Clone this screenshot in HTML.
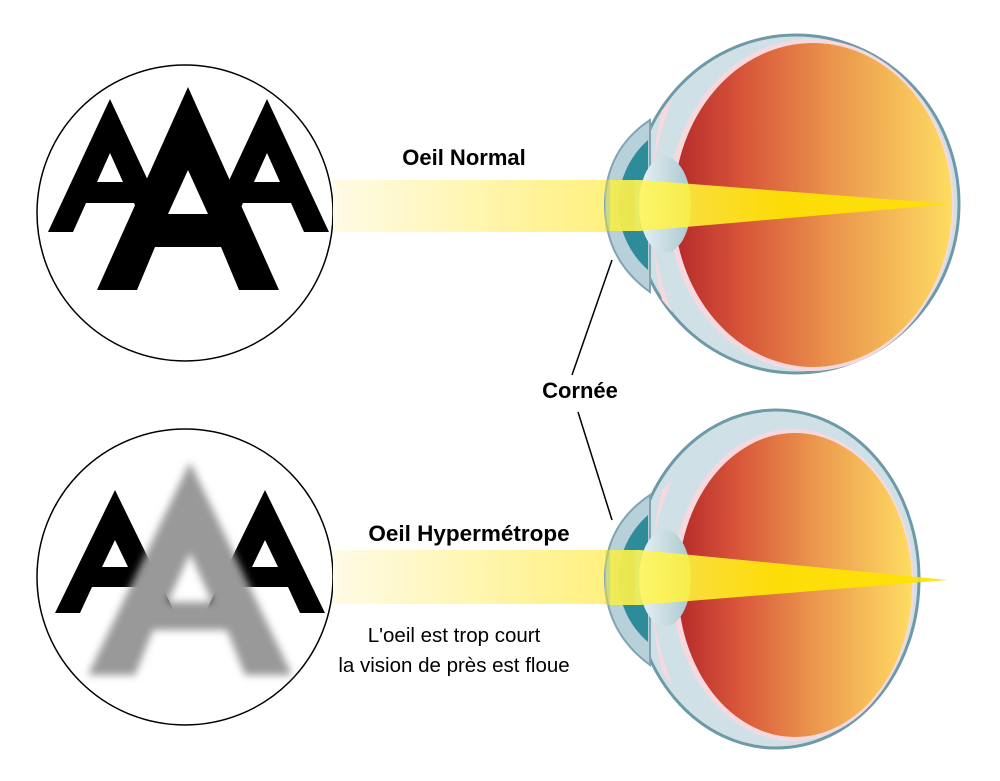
<!DOCTYPE html>
<html><head><meta charset="utf-8"><style>
html,body{margin:0;padding:0;background:#fff}
svg{display:block}
</style></head><body>
<svg width="1000" height="781" viewBox="0 0 1000 781" xmlns="http://www.w3.org/2000/svg">
<defs>
<linearGradient id="red" x1="0" x2="1" y1="0" y2="0">
<stop offset="0" stop-color="#b52a2a"/><stop offset="0.25" stop-color="#d8553a"/><stop offset="0.6" stop-color="#ec9a4e"/><stop offset="1" stop-color="#fedc62"/></linearGradient>
<linearGradient id="beam" x1="0" x2="1"><stop offset="0" stop-color="#fffbe6"/><stop offset="1" stop-color="#fff07a"/></linearGradient>
<linearGradient id="cone" x1="0" x2="1"><stop offset="0" stop-color="#fff870"/><stop offset="0.5" stop-color="#ffe800"/><stop offset="1" stop-color="#ffe000"/></linearGradient>
<linearGradient id="lens" x1="0" x2="1"><stop offset="0" stop-color="#e8f2f4"/><stop offset="1" stop-color="#a9c8cf"/></linearGradient>
<filter id="blur"><feGaussianBlur stdDeviation="4"/></filter>
</defs>

<circle cx="185" cy="213" r="148" fill="#fff" stroke="#000" stroke-width="1.5"/>
<circle cx="185" cy="577" r="148" fill="#fff" stroke="#000" stroke-width="1.5"/>

<g fill="#000" fill-rule="evenodd">
<path d="M110,99 L172,232 L147,232 L134,203 L86,203 L73,232 L48,232 Z M110,153 L97,182 L123,182 Z"/>
<path d="M267,99 L329,232 L304,232 L291,203 L243,203 L230,232 L205,232 Z M267,153 L254,182 L280,182 Z"/>
<path d="M188,87 L279,290 L239,290 L221,247 L155,247 L137,290 L97,290 Z M188,170 L168,214 L208,214 Z"/>
</g>
<g fill="#000" fill-rule="evenodd">
<path d="M115,490 L175,613 L150,613 L138,587 L92,587 L80,613 L55,613 Z M115,540 L102,567 L128,567 Z"/>
<path d="M265,490 L325,613 L300,613 L288,587 L242,587 L230,613 L205,613 Z M265,540 L252,567 L278,567 Z"/>
</g>
<path d="M190,462 L292,675 L245,675 L227,630 L153,630 L135,675 L88,675 Z M190,553 L168,602 L212,602 Z" fill="#999" fill-rule="evenodd" filter="url(#blur)"/>

<rect x="333" y="180" width="285" height="52" fill="url(#beam)"/>
<rect x="333" y="550" width="285" height="54" fill="url(#beam)"/>

<g>
<ellipse cx="796" cy="204" rx="163" ry="169" fill="#cfe0e6" stroke="#6e99a6" stroke-width="3"/>
<path d="M650,120 Q605,150 605,205 Q605,260 650,292 Z" fill="#b7d0da" stroke="#7ea5b2" stroke-width="2"/>
<path d="M648,140 Q620,165 618,205 Q620,245 648,270 Z" fill="#2e8b9a"/>
<ellipse cx="811" cy="205" rx="143" ry="166" fill="#f6d9df"/>
<ellipse cx="813" cy="205" rx="139" ry="162" fill="url(#red)"/>
<path d="M672,100 Q652,150 650,205 Q652,260 672,312 L662,300 Q640,205 662,110 Z" fill="#f6d9df"/>
<ellipse cx="665" cy="205" rx="26" ry="48" fill="url(#lens)"/>
<path d="M610,180 L640,180 L950,204 L640,231 L610,231 Z" fill="url(#cone)" opacity="0.9"/>
<rect x="605" y="180" width="30" height="51" fill="#e8e23a" opacity="0.5"/>
</g>
<g>
<ellipse cx="776" cy="579" rx="143" ry="169" fill="#cfe0e6" stroke="#6e99a6" stroke-width="3"/>
<path d="M650,495 Q605,525 605,578 Q605,632 650,665 Z" fill="#b7d0da" stroke="#7ea5b2" stroke-width="2"/>
<path d="M648,515 Q620,540 618,578 Q620,618 648,642 Z" fill="#2e8b9a"/>
<ellipse cx="793" cy="585" rx="121" ry="156" fill="#f6d9df"/>
<ellipse cx="795" cy="585" rx="117" ry="152" fill="url(#red)"/>
<path d="M672,480 Q652,525 650,578 Q652,632 672,685 L662,672 Q640,578 662,490 Z" fill="#f6d9df"/>
<ellipse cx="665" cy="578" rx="26" ry="48" fill="url(#lens)"/>
<path d="M610,550 L640,550 L948,580 L640,605 L610,605 Z" fill="url(#cone)" opacity="0.9"/>
<rect x="605" y="550" width="30" height="55" fill="#e8e23a" opacity="0.5"/>
</g>

<line x1="612" y1="260" x2="572" y2="375" stroke="#000" stroke-width="1.5"/>
<line x1="578" y1="412" x2="612" y2="520" stroke="#000" stroke-width="1.5"/>

<g font-family="Liberation Sans, sans-serif" text-anchor="middle">
<text x="464" y="165" font-size="22" font-weight="bold">Oeil Normal</text>
<text x="580" y="398" font-size="22" font-weight="bold">Cornée</text>
<text x="469" y="541" font-size="22.5" font-weight="bold">Oeil Hypermétrope</text>
<text x="454" y="642" font-size="20.5">L'oeil est trop court</text>
<text x="454" y="672" font-size="20.5">la vision de près est floue</text>
</g>
</svg>
</body></html>
